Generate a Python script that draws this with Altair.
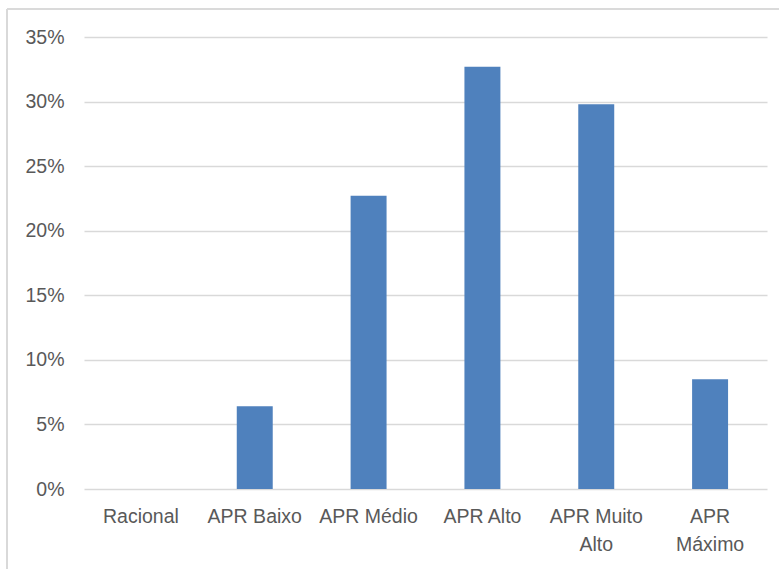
import altair as alt
import pandas as pd

categories = ["Racional", "APR Baixo", "APR Médio", "APR Alto", "APR Muito Alto", "APR Máximo"]
values = [0.0, 0.064, 0.227, 0.327, 0.298, 0.085]
y_ticks = [0, 0.05, 0.10, 0.15, 0.20, 0.25, 0.30, 0.35]
label_muito_alto = ["APR Muito", "Alto"]
label_maximo = ["APR", "Máximo"]

df = pd.DataFrame({"cat": categories, "val": values})

FONT = "Liberation Sans"
GRAY = "#595959"
GRID = "#d9d9d9"

label_expr = (
    "datum.label == 'APR Muito Alto' ? ['" + "','".join(label_muito_alto) + "'] : "
    "datum.label == 'APR Máximo' ? ['" + "','".join(label_maximo) + "'] : datum.label"
)

bars = alt.Chart(df).mark_bar(color="#4F81BD").encode(
    x=alt.X(
        "cat:N",
        sort=categories,
        title=None,
        scale=alt.Scale(paddingInner=0.684, paddingOuter=0.342),
        axis=alt.Axis(
            labelAngle=0,
            labelFont=FONT,
            labelFontSize=19.5,
            labelColor=GRAY,
            labelPadding=18,
            labelLineHeight=28,
            labelExpr=label_expr,
            ticks=False,
            domain=False,
            grid=False,
        ),
    ),
    y=alt.Y(
        "val:Q",
        title=None,
        scale=alt.Scale(domain=[0, 0.35], nice=False),
        axis=alt.Axis(
            values=y_ticks,
            format=".0%",
            labelFont=FONT,
            labelFontSize=19.5,
            labelColor=GRAY,
            labelPadding=20,
            ticks=False,
            domain=False,
            grid=True,
            gridColor=GRID,
            gridWidth=1.5,
        ),
    ),
)

border_top = alt.Chart(df).mark_rule(color=GRID, strokeWidth=1.2).encode(
    x=alt.value(-77), x2=alt.value(700), y=alt.value(-28)
)
border_left = alt.Chart(df).mark_rule(color=GRID, strokeWidth=1.2).encode(
    x=alt.value(-77), y=alt.value(-28), y2=alt.value(540)
)

chart = alt.layer(bars, border_top, border_left).properties(
    width=683,
    height=452,
    autosize=alt.AutoSizeParams(type="none"),
    padding={"left": 84, "top": 37, "right": 12, "bottom": 80},
    background="white",
).configure_view(stroke=None)

chart.save("out.html", embed_options={"renderer": "svg", "actions": False})
